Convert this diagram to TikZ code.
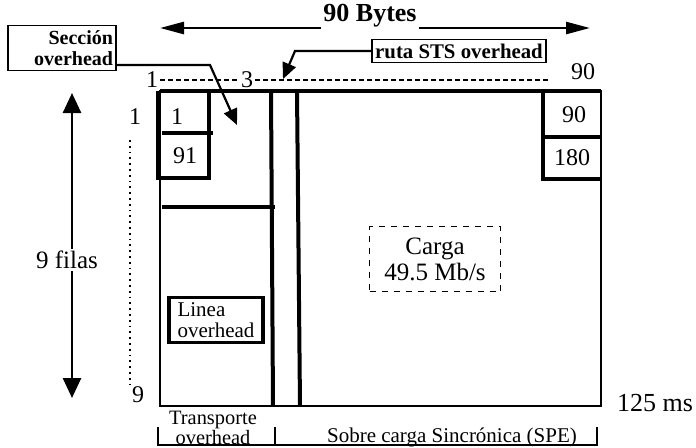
\documentclass[tikz,border=0pt]{standalone}
\usepackage{fontspec}
\setmainfont{Liberation Serif}
\usepackage{tikz}
\usetikzlibrary{arrows.meta}

\tikzset{
  txt/.style={inner sep=1pt, font=\fontsize{12}{13}\selectfont},
  smalltxt/.style={inner sep=1pt, font=\fontsize{10}{11}\selectfont},
  boldtxt/.style={inner sep=1pt, font=\bfseries\fontsize{10}{10}\selectfont},
  cellline/.style={line width=1.8pt},
  colline/.style={line width=2pt},
  dashline/.style={dash pattern=on 2.5pt off 1.5pt, line width=0.6pt},
  ptr/.style={line width=1.1pt, -{Triangle[length=8pt,width=7pt]}},
  bigarrow/.style={line width=1.3pt, -{Triangle[length=12pt,width=6pt]}},
  rowarrow/.style={line width=1.3pt, -{Triangle[length=10pt,width=9pt]}}
}

\begin{document}
\begin{tikzpicture}[x=0.5pt,y=-0.5pt]
    \useasboundingbox (0,0) rectangle (696,447);
    % Width of the frame
    \node[txt, font=\bfseries\fontsize{13}{13}\selectfont] (bytes) at (370,16) {90 Bytes};
    \coordinate (bl) at (160,28);
    \coordinate (br) at (590,28);
    \draw[bigarrow] (bytes.west |- bl) -- (bl);
    \draw[bigarrow] (bytes.east |- br) -- (br);
    % Column numbers
    \node[txt] (c1) at (152,80) {1};
    \node[txt] (c3) at (247,80) {3};
    \node[txt] (c90) at (583,72) {90};
    \coordinate (dend) at (550,80);
    \draw[dashline] (c1.east) -- (c3.west);
    \draw[dashline] (c3.east) -- (dend);
    % Frame and columns
    \draw[line width=1.1pt] (160,91) rectangle (601,406);
    \draw[line width=1.6pt] (160,91) -- (601,91);
    \draw[colline] (271,91) -- (273,406);
    \draw[colline] (297,91) -- (300,406);
    \draw[cellline] (162,207) -- (275,207);
    % Cells
    \draw[cellline] (158,91) -- (158,178) -- (209,178) -- (209,91);
    \draw[cellline] (162,133) -- (213,133);
    \draw[cellline] (543,91) -- (543,179) -- (600,179);
    \draw[cellline] (543,137) -- (600,137);
    \foreach \name/\x/\y/\val in {n1/177/117/1, n91/185/156/91, n90/574/115/90, n180/572/158/180} {
      \node[txt] (\name) at (\x,\y) {\val};
    }
    % Rows
    \node[txt] (r1) at (135,117) {1};
    \node[txt] (r9) at (138,395) {9};
    \draw[dotted, line width=0.9pt] (130,140) -- (130,387);
    \node[txt, font=\fontsize{12.5}{13}\selectfont] (filas) at (67,260) {9 filas};
    \coordinate (ftop) at (72,93);
    \coordinate (fbot) at (72,398);
    \draw[rowarrow] (filas.north -| ftop) -- (ftop);
    \draw[rowarrow] (filas.south -| fbot) -- (fbot);
    \node[txt, font=\fontsize{13}{13}\selectfont] (time) at (655,403) {125 ms};
    % Labelled boxes
    \node[boldtxt, draw, line width=0.9pt, font=\bfseries\fontsize{10}{10.5}\selectfont,
          align=right, text width=51pt, inner xsep=1.5pt, inner ysep=2.5pt] (sec) at (62,48) {Sección\\overhead};
    \coordinate (secbend) at (210,65);
    \coordinate (sectip) at (237,125);
    \draw[ptr] (sec.east |- secbend) -- (secbend) -- (sectip);
    \node[boldtxt, draw, line width=0.9pt, font=\bfseries\fontsize{10.4}{10}\selectfont,
          minimum width=87pt, minimum height=11.5pt] (ruta) at (459,51) {ruta STS overhead};
    \coordinate (rutabend) at (295,51);
    \coordinate (rutatip) at (283,79);
    \draw[ptr] (ruta.west) -- (rutabend) -- (rutatip);
    \node[draw, line width=1.8pt, align=left, inner xsep=1.5pt, inner ysep=2.5pt, minimum width=47pt,
          font=\fontsize{10.5}{10.5}\selectfont] (linea) at (216,320) {Linea\\overhead};
    \node[draw, dashed, line width=0.9pt, align=center, minimum width=65.5pt, minimum height=32.5pt,
          font=\fontsize{12.5}{13}\selectfont] (carga) at (435,259) {Carga\\49.5 Mb/s};
    % Bottom bracket
    \node[smalltxt, align=center, font=\fontsize{10.2}{9}\selectfont] (trans) at (213,428) {Transporte\\overhead};
    \node[smalltxt, font=\fontsize{10.5}{10}\selectfont] (spe) at (452,437) {Sobre carga Sincrónica (SPE)};
    \draw[line width=1.3pt] (158,427) -- (158,445) -- (597,445) -- (597,427);
    \draw[line width=1.3pt] (275,427) -- (275,445);
\end{tikzpicture}
\end{document}
